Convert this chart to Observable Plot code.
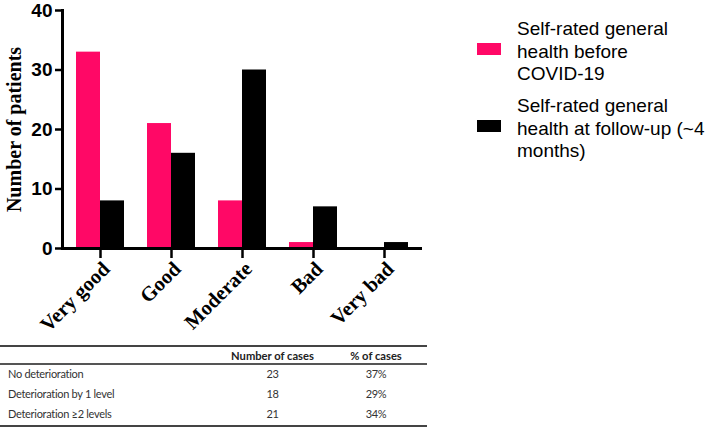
<!DOCTYPE html>
<html>
<head>
<meta charset="utf-8">
<script src="https://cdn.jsdelivr.net/npm/d3@7"></script>
<script src="https://cdn.jsdelivr.net/npm/@observablehq/plot@0.6"></script>
<style>
  html, body { margin: 0; padding: 0; background: #fff; color: #000; }
  body { width: 709px; height: 427px; position: relative; overflow: hidden; }
  #chart { position: absolute; left: 0; top: 0; }
  .legend { position: absolute; left: 477px; font-family: "Liberation Sans", Arial, sans-serif; font-size: 19px; line-height: 22.5px; color: #000; }
  .legend .item { position: absolute; left: 0; white-space: nowrap; }
  .legend .sw { position: absolute; left: 0; width: 24px; height: 12px; }
  .legend .tx { position: absolute; left: 40px; }
  table.tbl { position: absolute; left: 0; top: 345px; width: 427px; border-collapse: collapse; table-layout: fixed;
    font-family: Lato, "Open Sans", sans-serif; font-size: 11px; letter-spacing: -0.3px; color: #333; }
  table.tbl td { padding: 2px 0 0 0; height: 18px; vertical-align: top; }
  table.tbl th { padding: 0; font-weight: bold; height: 16px; font-size: 11.2px; letter-spacing: 0; color: #222; vertical-align: middle; }
  table.tbl thead tr { border-top: 2px solid #444; border-bottom: 2px solid #555; }
  table.tbl tbody tr:last-child { border-bottom: 2px solid #444; }
  table.tbl td:first-child { padding-left: 8px; text-align: left; }
  table.tbl td, table.tbl th { text-align: center; }
</style>
</head>
<body>
<div id="chart"></div>
<div class="legend" id="legend"></div>
<table class="tbl" id="tbl"></table>
<script>
const categories = ["Very good", "Good", "Moderate", "Bad", "Very bad"];
const beforeCovid = [33, 21, 8, 1, 0];
const followUp = [8, 16, 30, 7, 1];
const yTicks = [0, 10, 20, 30, 40];
const seriesNames = ["Self-rated general health before COVID-19", "Self-rated general health at follow-up (~4 months)"];
const seriesLines = [["Self-rated general", "health before", "COVID-19"], ["Self-rated general", "health at follow-up (~4", "months)"]];
const seriesColors = ["#ff0866", "#000000"];
const yLabel = ["Number of patients"];
const tableHeader = ["", "Number of cases", "% of cases"];
const tableRows = ["No deterioration", "Deterioration by 1 level", "Deterioration \u22652 levels"];
const tableCases = [23, 18, 21];
const tablePct = ["37%", "29%", "34%"];

const data = categories.map((c, i) => ({cat: c, before: beforeCovid[i], follow: followUp[i]}));

const plot = Plot.plot({
  width: 430,
  height: 340,
  marginLeft: 62,
  marginRight: 8,
  marginTop: 10,
  marginBottom: 92,
  style: {background: "transparent", color: "#000", overflow: "visible"},
  x: {domain: categories, paddingInner: 0.33, paddingOuter: 0.18, label: null},
  y: {domain: [0, 40], label: null},
  marks: [
    Plot.barY(data, {x: "cat", y: "before", fill: seriesColors[0], insetLeft: 0, insetRight: 24}),
    Plot.barY(data, {x: "cat", y: "follow", fill: seriesColors[1], insetLeft: 24, insetRight: 0}),
    Plot.axisY({ticks: yTicks, tickSize: 7, tickPadding: 3, strokeWidth: 2.5, fontSize: 19, fontWeight: "bold",
      fontFamily: "Liberation Sans, Arial, sans-serif", label: null}),
    Plot.axisX({tickSize: 10, text: null, strokeWidth: 2.5, label: null}),
    Plot.axisX({tickSize: 10, tickPadding: 3, tickRotate: -45, dx: 6, dy: 4, stroke: "none", fontSize: 20.5, fontWeight: "bold",
      fontFamily: "Liberation Serif, Times New Roman, serif", label: null}),
    Plot.ruleY([0], {strokeWidth: 3}),
    Plot.frame({anchor: "left", strokeWidth: 3}),
    Plot.text(yLabel, {frameAnchor: "left", rotate: -90, dx: -48, textAnchor: "middle", fontSize: 20, fontWeight: "bold",
      fontFamily: "Liberation Serif, Times New Roman, serif", fill: "#000"})
  ]
});
document.getElementById("chart").appendChild(plot);

// legend
const legend = document.getElementById("legend");
const itemTops = [18, 95];
seriesLines.forEach((lines, i) => {
  const item = document.createElement("div");
  item.className = "item";
  item.style.top = itemTops[i] + "px";
  item.title = seriesNames[i];
  const sw = document.createElement("div");
  sw.className = "sw";
  sw.style.background = seriesColors[i];
  sw.style.top = "25px";
  const tx = document.createElement("div");
  tx.className = "tx";
  tx.innerHTML = lines.join("<br>");
  item.appendChild(sw);
  item.appendChild(tx);
  legend.appendChild(item);
});

// table
const tbl = document.getElementById("tbl");
let html = '<colgroup><col style="width:220px"><col style="width:105px"><col style="width:102px"></colgroup>';
html += "<thead><tr>" + tableHeader.map(h => "<th>" + h + "</th>").join("") + "</tr></thead><tbody>";
tableRows.forEach((r, i) => {
  html += "<tr><td>" + r + "</td><td>" + tableCases[i] + "</td><td>" + tablePct[i] + "</td></tr>";
});
html += "</tbody>";
tbl.innerHTML = html;
</script>
</body>
</html>
